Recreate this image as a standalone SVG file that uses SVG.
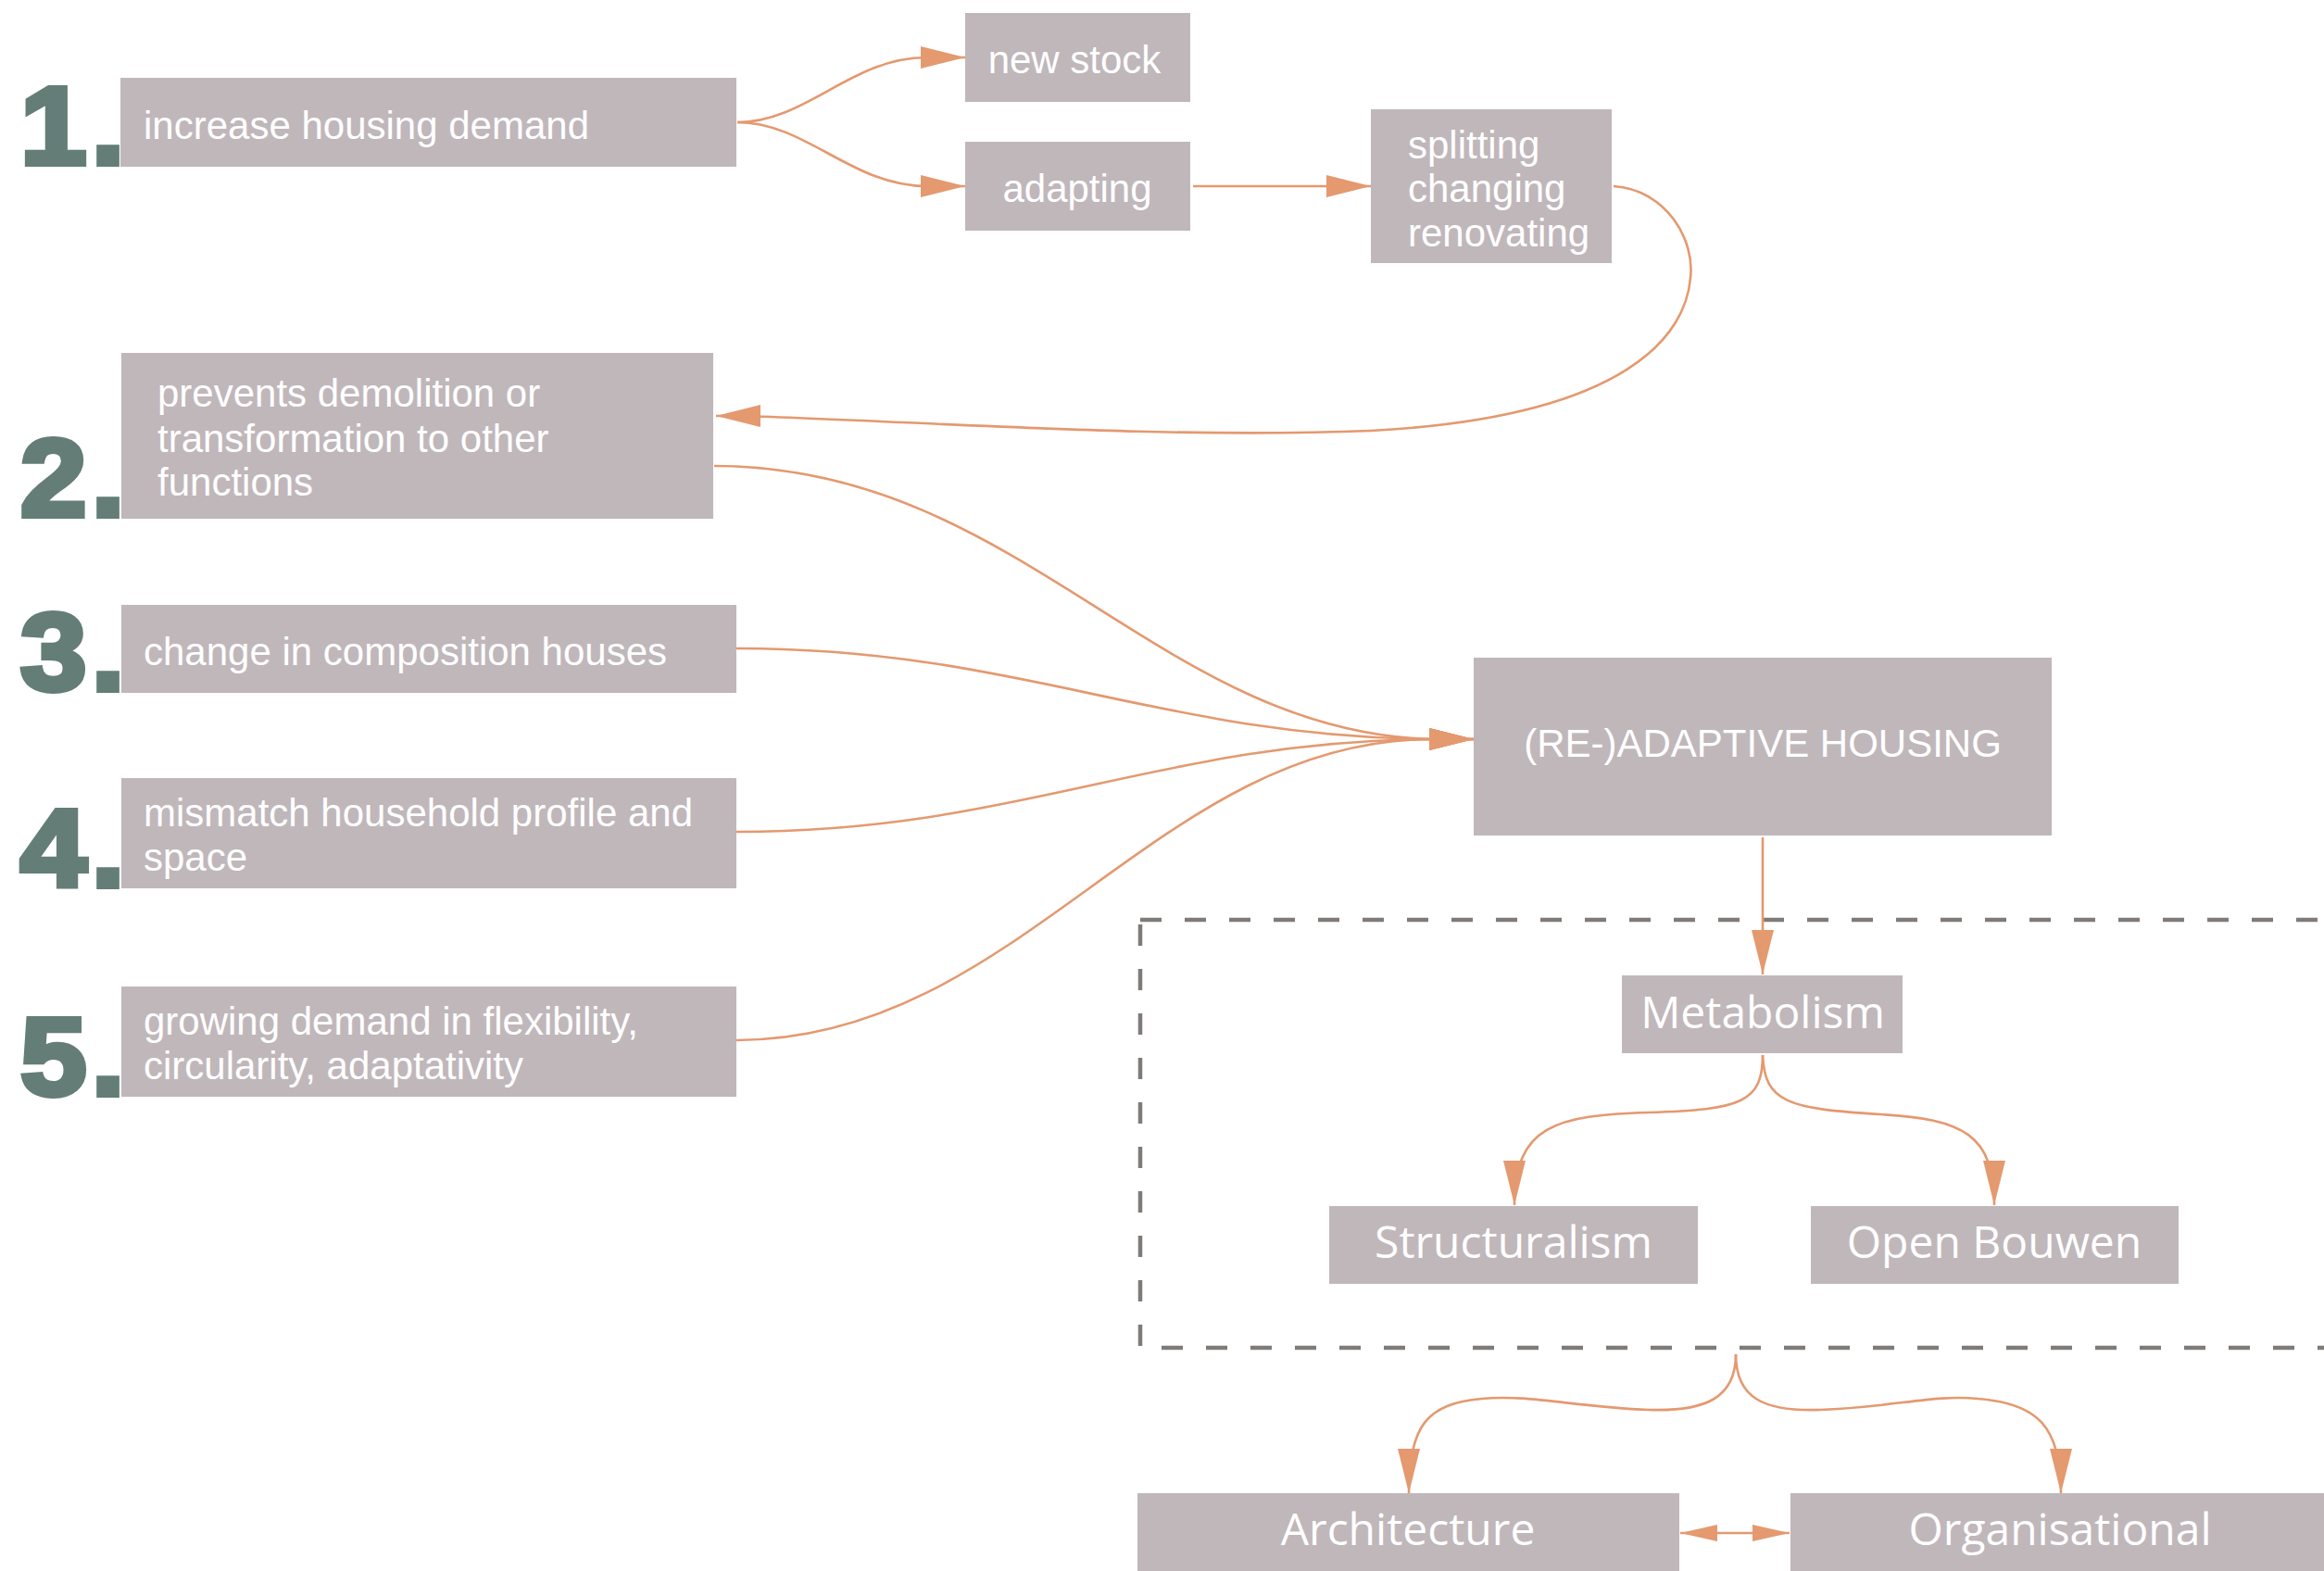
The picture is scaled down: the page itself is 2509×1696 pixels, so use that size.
<svg xmlns="http://www.w3.org/2000/svg" width="2509" height="1696" viewBox="0 0 2509 1696">
  <defs>
    <style>
      .box { fill: #c0b7bb; }
      .lbl { fill: #ffffff; font-family: "Liberation Sans", Arial, sans-serif; font-size: 42px; }
      .lbl2 { fill: #ffffff; font-family: "Open Sans", "Noto Sans", sans-serif; font-size: 48px; text-anchor: middle; }
      .num { fill: #647d77; stroke: #647d77; stroke-width: 6; stroke-linejoin: miter; font-family: "Liberation Sans", Arial, sans-serif; font-weight: bold; font-size: 119px; letter-spacing: 5px; }
      .link { fill: none; stroke: #e4996f; stroke-width: 2.6; }
      .frame { fill: none; stroke: #7f7b78; stroke-width: 4.5; stroke-dasharray: 23 25; }
    </style>
    <marker id="arrow" markerUnits="userSpaceOnUse" markerWidth="50" markerHeight="26" refX="48" refY="12" orient="auto">
      <path d="M0,0 L48,12 L0,24 Z" fill="#e4996f"/>
    </marker>
    <marker id="arrowSmall" markerUnits="userSpaceOnUse" markerWidth="42" markerHeight="20" refX="40" refY="9" orient="auto-start-reverse">
      <path d="M0,0 L40,9 L0,18 Z" fill="#e4996f"/>
    </marker>
  </defs>

  <rect width="2509" height="1696" fill="#ffffff"/>

  <!-- numbering -->
  <g id="numbers">
    <text class="num" x="22" y="177" transform="translate(22 177) scale(1.08 1) translate(-22 -177)">1.</text>
    <text class="num" x="22" y="557" transform="translate(22 557) scale(1.08 1) translate(-22 -557)">2.</text>
    <text class="num" x="22" y="745" transform="translate(22 745) scale(1.08 1) translate(-22 -745)">3.</text>
    <text class="num" x="22" y="957" transform="translate(22 957) scale(1.08 1) translate(-22 -957)">4.</text>
    <text class="num" x="22" y="1182" transform="translate(22 1182) scale(1.08 1) translate(-22 -1182)">5.</text>
  </g>

  <!-- grouping frame -->
  <rect class="frame" x="1231" y="993" width="1400" height="462"/>

  <!-- connectors -->
  <g id="connectors">
    <path class="link" marker-end="url(#arrow)" d="M796 132 C870 132, 920 62, 1000 62 L1042 62"/>
    <path class="link" marker-end="url(#arrow)" d="M796 132 C870 132, 920 201, 1000 201 L1042 201"/>
    <path class="link" marker-end="url(#arrow)" d="M1288 201 L1480 201"/>
    <path class="link" marker-end="url(#arrow)" d="M1742 201 C1800 205, 1830 260, 1825 300 C1820 360, 1760 450, 1480 465 C1250 474, 1000 455, 800 449 L773 449"/>
    <path class="link" marker-end="url(#arrow)" d="M771 503 C1100 503, 1250 790, 1545 798 L1591 798"/>
    <path class="link" marker-end="url(#arrow)" d="M795 700 C1100 700, 1250 795, 1545 798 L1591 798"/>
    <path class="link" marker-end="url(#arrow)" d="M795 898 C1100 898, 1250 800, 1545 798 L1591 798"/>
    <path class="link" marker-end="url(#arrow)" d="M795 1123 C1100 1123, 1250 798, 1545 798 L1591 798"/>
    <path class="link" marker-end="url(#arrow)" d="M1903 904 L1903 1052"/>
    <path class="link" marker-end="url(#arrow)" d="M1903 1139 C1903 1190, 1880 1198, 1780 1201 C1680 1204, 1635 1215, 1635 1301"/>
    <path class="link" marker-end="url(#arrow)" d="M1903 1139 C1905 1190, 1930 1197, 2030 1203 C2120 1208, 2153 1225, 2153 1301"/>
    <path class="link" marker-end="url(#arrow)" d="M1874 1462 C1874 1510, 1840 1524, 1780 1522 C1700 1519, 1650 1505, 1600 1510 C1540 1515, 1521 1540, 1521 1612"/>
    <path class="link" marker-end="url(#arrow)" d="M1874 1462 C1874 1510, 1905 1524, 1965 1522 C2045 1519, 2090 1505, 2135 1510 C2200 1515, 2225 1540, 2225 1612"/>
    <path class="link" stroke-width="3.2" marker-start="url(#arrowSmall)" marker-end="url(#arrowSmall)" d="M1814 1655 L1932 1655"/>
  </g>

  <!-- nodes -->
  <g id="n-increase">
    <rect class="box" x="130" y="84" width="665" height="96"/>
    <text class="lbl" x="155" y="150">increase housing demand</text>
  </g>
  <g id="n-newstock">
    <rect class="box" x="1042" y="14" width="243" height="96"/>
    <text class="lbl" x="1160" y="79" text-anchor="middle">new stock</text>
  </g>
  <g id="n-adapting">
    <rect class="box" x="1042" y="153" width="243" height="96"/>
    <text class="lbl" x="1163" y="218" text-anchor="middle">adapting</text>
  </g>
  <g id="n-splitting">
    <rect class="box" x="1480" y="118" width="260" height="166"/>
    <text class="lbl" x="1520" y="171">splitting</text>
    <text class="lbl" x="1520" y="218">changing</text>
    <text class="lbl" x="1520" y="266">renovating</text>
  </g>
  <g id="n-prevents">
    <rect class="box" x="131" y="381" width="639" height="179"/>
    <text class="lbl" x="170" y="439">prevents demolition or</text>
    <text class="lbl" x="170" y="488">transformation to other</text>
    <text class="lbl" x="170" y="535">functions</text>
  </g>
  <g id="n-composition">
    <rect class="box" x="131" y="653" width="664" height="95"/>
    <text class="lbl" x="155" y="718">change in composition houses</text>
  </g>
  <g id="n-mismatch">
    <rect class="box" x="131" y="840" width="664" height="119"/>
    <text class="lbl" x="155" y="892">mismatch household profile and</text>
    <text class="lbl" x="155" y="940">space</text>
  </g>
  <g id="n-growing">
    <rect class="box" x="131" y="1065" width="664" height="119"/>
    <text class="lbl" x="155" y="1117">growing demand in flexibility,</text>
    <text class="lbl" x="155" y="1165">circularity, adaptativity</text>
  </g>
  <g id="n-adaptive">
    <rect class="box" x="1591" y="710" width="624" height="192"/>
    <text class="lbl" x="1903" y="817" text-anchor="middle">(RE-)ADAPTIVE HOUSING</text>
  </g>
  <g id="n-metabolism">
    <rect class="box" x="1751" y="1053" width="303" height="84"/>
    <text class="lbl2" x="1903" y="1110">Metabolism</text>
  </g>
  <g id="n-structuralism">
    <rect class="box" x="1435" y="1302" width="398" height="84"/>
    <text class="lbl2" x="1634" y="1358">Structuralism</text>
  </g>
  <g id="n-openbouwen">
    <rect class="box" x="1955" y="1302" width="397" height="84"/>
    <text class="lbl2" x="2153" y="1358">Open Bouwen</text>
  </g>
  <g id="n-architecture">
    <rect class="box" x="1228" y="1612" width="585" height="100"/>
    <text class="lbl2" x="1520" y="1668">Architecture</text>
  </g>
  <g id="n-organisational">
    <rect class="box" x="1933" y="1612" width="600" height="100"/>
    <text class="lbl2" x="2224" y="1668">Organisational</text>
  </g>
</svg>
